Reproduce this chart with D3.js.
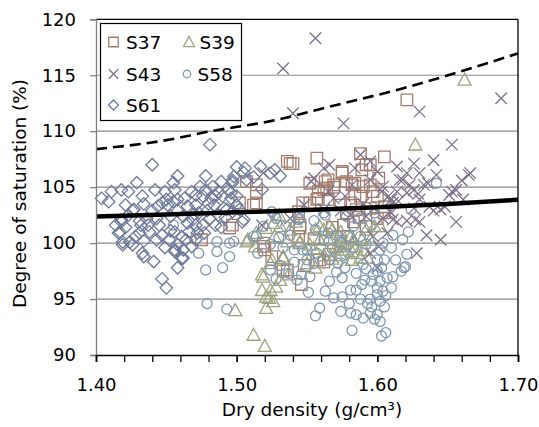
<!DOCTYPE html>
<html>
<head>
<meta charset="utf-8">
<script src="https://cdn.jsdelivr.net/npm/d3@7"></script>
<style>
  html, body { margin: 0; padding: 0; background: #fff; }
  svg { display: block; }
  text { font-family: "DejaVu Sans", Verdana, sans-serif; fill: #000; }
</style>
</head>
<body>
<svg id="chart" width="539" height="427"></svg>
<script>
// ---- data -------------------------------------------------------------
const xTicks = [1.40, 1.50, 1.60, 1.70];
const xMinorTicks = d3.range(0, 16).map(i => +(1.40 + i * 0.02).toFixed(2));
const yTicks = [90, 95, 100, 105, 110, 115, 120];
const xTitle = "Dry density (g/cm³)";
const yTitle = "Degree of saturation (%)";

const seriesNames = ["S37", "S39", "S43", "S58", "S61"];

const s37 = [
  [1.621,112.8],[1.536,107.3],[1.540,107.1],[1.557,107.6],[1.588,108.0],[1.605,107.7],[1.595,107.0],
  [1.575,106.4],[1.565,105.65],[1.589,106.55],[1.562,104.75],[1.569,105.2],[1.558,104.6],[1.557,103.9],
  [1.578,105.5],[1.584,105.35],[1.590,105.05],[1.595,105.2],[1.597,104.6],[1.600,104.2],[1.584,104.4],
  [1.547,103.6],[1.544,102.8],[1.581,103.6],[1.578,102.7],[1.605,102.7],[1.507,105.5],[1.514,105.2],
  [1.514,104.5],[1.514,103.6],[1.502,103.6],[1.475,100.3],[1.495,101.35],[1.519,99.7],[1.512,103.4],
  [1.497,101.6],[1.538,107.1],[1.552,105.35],[1.558,104.0],[1.564,104.9],[1.552,103.6],[1.545,101.35],
  [1.544,100.6],[1.519,100.0],[1.520,99.4],[1.525,98.8],[1.536,97.6],[1.546,96.3],[1.548,98.0],
  [1.559,98.5],[1.533,97.5],[1.545,101.6],[1.557,98.5],[1.562,98.3],[1.566,99.0],[1.574,100.15],
  [1.576,101.6],[1.583,101.9],[1.592,101.5],[1.585,103.0],[1.574,103.4],[1.600,102.2],[1.605,103.25],
  [1.595,103.1],[1.575,106.25],[1.563,105.5],[1.569,105.0],[1.582,105.2],[1.601,105.8],[1.588,104.2],
  [1.565,103.9],[1.592,107.0],[1.587,102.3],[1.579,100.6],[1.568,101.4],[1.555,100.4]
];

const s39 = [
  [1.662,114.6],[1.627,108.8],[1.499,94.0],[1.512,91.8],[1.520,90.8],[1.518,95.8],[1.519,97.0],
  [1.521,95.2],[1.521,94.2],[1.514,100.9],[1.507,100.15],[1.524,98.2],[1.518,97.2],[1.523,95.1],
  [1.525,98.5],[1.533,98.65],[1.528,96.1],[1.531,96.7],[1.537,97.2],[1.530,102.5],[1.526,101.8],
  [1.521,101.35],[1.508,100.3],[1.513,99.7],[1.531,101.5],[1.536,100.15],[1.545,100.15],[1.552,99.85],
  [1.559,101.5],[1.564,99.25],[1.527,100.6],[1.533,98.8],[1.545,100.0],[1.556,101.2],[1.562,101.2],
  [1.568,101.2],[1.571,99.7],[1.575,99.4],[1.577,100.0],[1.582,99.25],[1.586,99.1],[1.591,99.4],
  [1.583,100.3],[1.595,100.3],[1.598,101.5],[1.524,95.8],[1.526,94.8],[1.566,101.5],[1.574,101.0],
  [1.581,100.6],[1.565,100.3],[1.573,99.7],[1.585,99.7],[1.592,101.2],[1.602,101.5],[1.607,103.6],
  [1.589,100.3],[1.568,98.6],[1.562,98.9],[1.555,99.5],[1.550,98.2],[1.556,97.8],[1.574,98.9],
  [1.582,98.5],[1.588,98.7],[1.559,100.3],[1.593,98.7],[1.538,101.2],[1.542,101.9]
];

const s43 = [
  [1.556,118.3],[1.533,115.6],[1.540,111.6],[1.576,110.7],[1.630,111.75],[1.688,112.95],[1.653,108.8],
  [1.640,107.4],[1.665,106.1],[1.660,105.6],[1.626,107.1],[1.621,106.25],[1.630,106.25],[1.616,105.65],
  [1.623,105.2],[1.636,105.35],[1.642,106.1],[1.588,107.9],[1.595,107.3],[1.562,106.7],[1.553,105.5],
  [1.565,104.6],[1.577,104.2],[1.582,105.2],[1.595,105.65],[1.600,106.4],[1.610,103.9],[1.614,104.6],
  [1.604,105.05],[1.611,103.6],[1.621,104.5],[1.630,103.9],[1.626,103.1],[1.637,103.25],[1.645,103.0],
  [1.648,103.25],[1.653,104.6],[1.656,104.75],[1.661,103.9],[1.666,106.25],[1.633,105.2],[1.629,104.4],
  [1.651,104.3],[1.627,102.1],[1.630,101.9],[1.645,100.3],[1.628,99.1],[1.614,106.85],[1.618,105.65],
  [1.626,104.75],[1.603,104.6],[1.608,104.2],[1.615,103.75],[1.598,103.1],[1.610,102.7],[1.604,102.2],
  [1.614,101.9],[1.621,102.0],[1.607,100.9],[1.597,100.6],[1.601,99.7],[1.595,99.1],[1.600,97.8],
  [1.581,102.5],[1.609,102.8],[1.611,102.1],[1.519,106.25],[1.518,101.6],[1.538,102.2],[1.555,105.8],
  [1.548,103.4],[1.562,103.0],[1.574,102.9],[1.566,107.0],[1.584,106.7],[1.569,104.0],[1.590,103.5],
  [1.592,102.4],[1.635,100.7],[1.640,102.9],[1.656,101.9]
];

const s58 = [
  [1.473,99.1],[1.478,97.6],[1.486,99.25],[1.490,97.8],[1.495,98.8],[1.486,100.14],[1.495,100.0],
  [1.479,94.6],[1.493,94.1],[1.455,101.6],[1.512,100.6],[1.498,100.15],
  [1.545,102.2],[1.563,102.5],[1.571,100.7],[1.579,100.6],[1.588,100.6],[1.562,100.3],[1.547,99.4],
  [1.550,98.5],[1.555,98.2],[1.546,97.2],[1.552,97.0],[1.543,96.7],[1.557,99.1],[1.566,98.5],
  [1.572,98.2],[1.577,99.0],[1.583,99.6],[1.592,99.9],[1.602,99.4],[1.605,98.5],[1.600,98.5],
  [1.604,100.0],[1.621,99.0],[1.620,97.9],[1.617,97.5],[1.611,97.0],[1.607,96.9],[1.602,96.6],
  [1.596,96.6],[1.566,96.6],[1.575,96.9],[1.581,95.8],[1.585,95.8],[1.591,96.7],[1.569,95.1],
  [1.575,95.2],[1.588,95.0],[1.595,95.0],[1.600,95.4],[1.602,94.8],[1.604,95.7],[1.605,94.3],
  [1.596,94.3],[1.595,93.75],[1.598,93.2],[1.574,93.9],[1.585,93.6],[1.581,93.75],[1.556,93.5],
  [1.582,92.2],[1.603,91.7],[1.606,92.0],[1.598,102.7],[1.624,103.0],[1.642,105.35],[1.527,102.5],
  [1.524,97.6],[1.525,102.8],[1.528,102.2],[1.544,102.1],[1.562,102.7],[1.514,100.6],[1.541,99.4],
  [1.550,99.4],[1.590,98.1],[1.619,97.8],[1.613,98.5],[1.610,99.6],[1.611,100.7],[1.600,97.5],
  [1.600,96.0],[1.597,97.2],[1.603,97.8],[1.592,97.7],[1.589,96.3],[1.606,95.3],[1.610,96.0],
  [1.593,94.6],[1.590,93.3],[1.600,93.6],[1.602,93.0],[1.585,97.3],[1.577,97.8],[1.571,97.4],
  [1.563,95.7],[1.580,94.6],[1.551,95.6],[1.559,94.2],[1.568,99.5],[1.574,100.1],[1.565,100.9],
  [1.556,101.2],[1.538,100.7],[1.533,99.6],[1.535,101.5],[1.530,100.5],[1.524,99.9],[1.515,99.1],
  [1.519,101.5],[1.587,102.2],[1.595,101.6],[1.583,101.5],[1.578,102.4],[1.622,101.0],[1.618,100.3],
  [1.555,102.0],[1.541,98.3],[1.537,97.3],[1.531,98.0],[1.528,96.8]
];

const s61 = [
  [1.481,108.8],[1.440,107.0],[1.458,106.0],[1.429,105.4],[1.404,104.0],[1.409,103.7],[1.411,104.6],
  [1.418,104.75],[1.423,104.6],[1.433,104.2],[1.442,104.75],[1.449,104.6],[1.456,104.75],[1.455,105.4],
  [1.450,103.9],[1.451,103.4],[1.444,103.3],[1.427,103.0],[1.423,102.5],[1.418,102.1],[1.417,101.0],
  [1.419,100.1],[1.426,99.85],[1.433,99.1],[1.432,101.6],[1.437,101.6],[1.438,101.0],[1.428,100.6],
  [1.424,100.1],[1.445,101.6],[1.447,100.7],[1.452,100.3],[1.458,99.85],[1.462,99.4],[1.456,99.25],
  [1.449,99.6],[1.456,101.0],[1.461,100.6],[1.464,100.3],[1.466,101.0],[1.471,101.6],[1.469,102.1],
  [1.473,102.7],[1.471,103.4],[1.471,104.3],[1.476,104.2],[1.478,104.75],[1.483,105.05],[1.485,104.2],
  [1.490,104.2],[1.494,104.75],[1.497,105.4],[1.484,103.4],[1.491,103.1],[1.497,102.8],[1.481,102.2],
  [1.476,101.6],[1.485,101.6],[1.477,100.9],[1.471,100.3],[1.455,103.7],[1.447,103.6],[1.458,103.9],
  [1.443,102.2],[1.436,102.2],[1.431,102.0],[1.414,101.6],[1.418,101.9],[1.416,100.9],[1.419,99.85],
  [1.441,98.35],[1.434,98.8],[1.456,99.4],[1.461,98.65],[1.458,97.8],[1.462,98.66],[1.447,96.8],
  [1.450,96.0],[1.465,101.8],[1.470,102.6],[1.480,103.5],[1.487,102.5],[1.493,103.0],[1.500,103.4],
  [1.504,101.9],[1.474,105.05],[1.489,105.5],[1.498,105.95],[1.506,106.7],[1.500,106.8],[1.505,106.3],
  [1.497,105.6],[1.507,105.65],[1.500,104.2],[1.496,104.0],[1.524,106.25],[1.527,106.55],[1.517,106.85],
  [1.502,103.0],[1.505,102.1],[1.462,102.4],[1.465,103.3],[1.458,102.9],[1.453,102.4],[1.440,102.9],
  [1.434,103.5],[1.426,102.9],[1.421,103.4],[1.443,100.3],[1.434,100.2],[1.431,100.9],[1.421,101.4],
  [1.453,101.1],[1.468,99.7],[1.472,100.9],[1.479,102.9],[1.487,104.6],[1.482,104.0],[1.496,104.5],
  [1.492,102.3],[1.489,101.4],[1.468,104.6],[1.463,104.0],[1.478,106.0],[1.531,106.0],[1.512,105.9],
  [1.518,104.8]
];

// Reference curves (solid and dashed)
const solidCurve = [[1.40,102.37],[1.45,102.55],[1.50,102.75],[1.55,102.95],[1.60,103.2],[1.65,103.5],[1.70,103.87]];
const dashedCurve = [[1.40,108.4],[1.45,109.2],[1.48,109.96],[1.524,110.9],[1.571,112.35],[1.6185,113.84],[1.666,115.6],[1.70,116.96]];

// ---- layout ------------------------------------------------------------
const svg = d3.select("#chart");
const plot = { left: 96, right: 518, top: 19.3, bottom: 355 };
const fontFamily = '"DejaVu Sans", Verdana, sans-serif';

const x = d3.scaleLinear().domain([1.40, 1.70]).range([plot.left, plot.right]);
const y = d3.scaleLinear().domain([90, 120]).range([plot.bottom, plot.top]);

// marker shapes, size = nominal pixel width
const shapes = {
  square: { draw(c, s) { const h = s / 2; c.rect(-h, -h, s, s); } },
  triangle: { draw(c, s) { const h = s / 2, t = s * 0.92; c.moveTo(0, -t * 0.55); c.lineTo(h, t * 0.45); c.lineTo(-h, t * 0.45); c.closePath(); } },
  times: { draw(c, s) { const h = s / 2; c.moveTo(-h, -h); c.lineTo(h, h); c.moveTo(h, -h); c.lineTo(-h, h); } },
  circle: { draw(c, s) { const r = s / 2; c.moveTo(r, 0); c.arc(0, 0, r, 0, 2 * Math.PI); } },
  diamond: { draw(c, s) { const h = s / 2; c.moveTo(0, -h); c.lineTo(h, 0); c.lineTo(0, h); c.lineTo(-h, 0); c.closePath(); } }
};

const series = [
  { name: seriesNames[0], data: s37, shape: shapes.square,   size: 11.5, legendSize: 9.5, color: "#a27c6e" },
  { name: seriesNames[1], data: s39, shape: shapes.triangle, size: 13,   legendSize: 11,  color: "#9ca37d" },
  { name: seriesNames[2], data: s43, shape: shapes.times,    size: 11.5, legendSize: 9.5, color: "#7c7089" },
  { name: seriesNames[3], data: s58, shape: shapes.circle,   size: 10,   legendSize: 7.5, color: "#7f98b0" },
  { name: seriesNames[4], data: s61, shape: shapes.diamond,  size: 12.5, legendSize: 10,  color: "#6d799b" }
];

// ---- gridlines ----------------------------------------------------------
svg.append("g")
  .selectAll("line")
  .data(yTicks.filter(v => v > 90 && v < 120))
  .join("line")
  .attr("x1", plot.left).attr("x2", plot.right)
  .attr("y1", d => y(d)).attr("y2", d => y(d))
  .attr("stroke", "#8c8c8c").attr("stroke-width", 1.2);

// ---- markers -------------------------------------------------------------
const markers = svg.append("g");
series.forEach(s => {
  markers.append("g")
    .selectAll("path")
    .data(s.data)
    .join("path")
    .attr("transform", d => `translate(${x(d[0])},${y(d[1])})`)
    .attr("d", d3.symbol().type(s.shape).size(s.size))
    .attr("fill", "none")
    .attr("stroke", s.color)
    .attr("stroke-width", 1.3);
});

// ---- curves ------------------------------------------------------------
const curve = d3.line().x(d => x(d[0])).y(d => y(d[1])).curve(d3.curveMonotoneX);
svg.append("path").datum(dashedCurve)
  .attr("d", curve).attr("fill", "none")
  .attr("stroke", "#000").attr("stroke-width", 2.6).attr("stroke-dasharray", "11,6");
svg.append("path").datum(solidCurve)
  .attr("d", curve).attr("fill", "none")
  .attr("stroke", "#000").attr("stroke-width", 4.5);

// ---- frame & axes -------------------------------------------------------
svg.append("line")
  .attr("x1", plot.left).attr("x2", plot.right).attr("y1", plot.top).attr("y2", plot.top)
  .attr("stroke", "#000").attr("stroke-width", 1.3);
svg.append("line")
  .attr("x1", plot.right).attr("x2", plot.right).attr("y1", plot.top).attr("y2", plot.bottom)
  .attr("stroke", "#000").attr("stroke-width", 1.3);

const yAxis = svg.append("g")
  .attr("transform", `translate(${plot.left},0)`)
  .call(d3.axisLeft(y).tickValues(yTicks).tickSize(6).tickPadding(14).tickFormat(d3.format("d")));
yAxis.select(".domain").attr("stroke", "#808080").attr("stroke-width", 1.3);
yAxis.selectAll(".tick line").attr("stroke", "#808080").attr("stroke-width", 1.3);
yAxis.selectAll("text")
  .style("font-family", fontFamily)
  .style("font-size", "18px").attr("fill", "#000");

const xMinor = svg.append("g")
  .attr("transform", `translate(0,${plot.bottom})`)
  .call(d3.axisBottom(x).tickValues(xMinorTicks).tickSize(7).tickFormat(""));
xMinor.select(".domain").remove();
xMinor.selectAll(".tick line").attr("stroke", "#000").attr("stroke-width", 1.3);

const xAxis = svg.append("g")
  .attr("transform", `translate(0,${plot.bottom})`)
  .call(d3.axisBottom(x).tickValues(xTicks).tickSizeOuter(0).tickSize(7).tickFormat(d3.format(".2f")));
xAxis.select(".domain").attr("stroke", "#000").attr("stroke-width", 1.5);
xAxis.selectAll(".tick line").attr("stroke", "#000").attr("stroke-width", 1.3);
xAxis.selectAll("text")
  .attr("y", 23)
  .style("font-family", fontFamily)
  .style("font-size", "18px").attr("fill", "#000");

// ---- axis titles --------------------------------------------------------
svg.append("text")
  .attr("x", 312).attr("y", 416)
  .attr("text-anchor", "middle")
  .style("font-size", "18.5px")
  .text(xTitle);

svg.append("text")
  .attr("transform", "translate(26,193.5) rotate(-90)")
  .attr("text-anchor", "middle")
  .style("font-size", "18.5px")
  .text(yTitle);

// ---- legend -------------------------------------------------------------
const legend = svg.append("g");
legend.append("rect")
  .attr("x", 100.5).attr("y", 23.5).attr("width", 141).attr("height", 97)
  .attr("fill", "#fff").attr("stroke", "#000").attr("stroke-width", 1.2);

const legendPos = [[113.5, 42], [189, 42], [113.5, 74], [187, 74], [113.5, 105]];
series.forEach((s, i) => {
  const [lx, ly] = legendPos[i];
  const g = legend.append("g").attr("transform", `translate(${lx},${ly})`);
  g.append("path")
    .attr("d", d3.symbol().type(s.shape).size(s.legendSize))
    .attr("fill", "none").attr("stroke", s.color).attr("stroke-width", 1.3);
  g.append("text")
    .attr("x", i % 2 === 1 ? 10.5 : 12.5).attr("y", 0).attr("dy", "0.36em")
    .style("font-size", "18.5px")
    .text(s.name);
});
</script>
</body>
</html>
